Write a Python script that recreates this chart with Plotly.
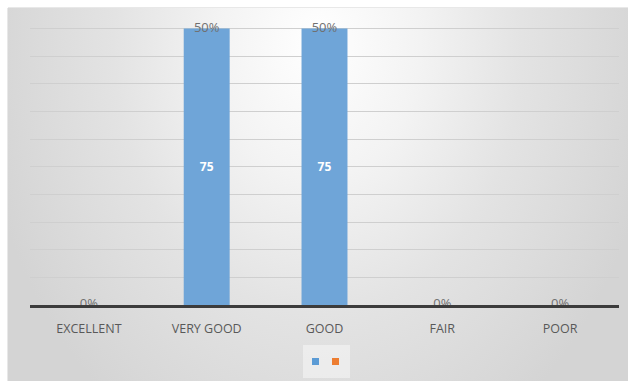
import plotly.graph_objects as go

categories = ["EXCELLENT", "VERY GOOD", "GOOD", "FAIR", "POOR"]
counts = [0, 75, 75, 0, 0]
percents = [0, 50, 50, 0, 0]
count_labels = ["", "75", "75", "", ""]
pct_labels = [f"{p}%" for p in percents]

W, H = 628, 381
fig = go.Figure()

# gradient chart-area background (on a full-page helper subplot)
fig.add_trace(go.Scatter(
    x=[-0.05, 1.05, 1.05, -0.05, -0.05], y=[-0.3, -0.3, 2.1, 2.1, -0.3],
    mode="lines", line=dict(width=0), fill="toself",
    fillgradient=dict(type="radial",
                      colorscale=[[0, "#ffffff"], [0.3, "#f3f3f3"], [0.6, "#e3e3e3"], [1, "#d4d4d4"]]),
    hoverinfo="skip", showlegend=False, xaxis="x", yaxis="y"))

# bars
fig.add_trace(go.Bar(
    x=categories, y=counts, marker=dict(color="#6fa5d8", line=dict(width=0)),
    text=count_labels, textposition="inside", insidetextanchor="middle",
    textfont=dict(color="white", size=12, family="Open Sans", weight="bold"),
    width=0.39, showlegend=False, xaxis="x2", yaxis="y2", hoverinfo="skip"))

# percentage labels at bar ends
fig.add_trace(go.Scatter(
    x=categories, y=counts, mode="text", text=pct_labels,
    textposition="middle center",
    textfont=dict(color="#707070", size=13, family="Open Sans"),
    cliponaxis=False, showlegend=False, xaxis="x2", yaxis="y2", hoverinfo="skip"))

# legend entries (no names, as in the reference)
fig.add_trace(go.Scatter(x=[None], y=[None], mode="markers", name="",
                         marker=dict(symbol="square", size=7, color="#5b9bd5"),
                         xaxis="x2", yaxis="y2", legend="legend"))
fig.add_trace(go.Scatter(x=[None], y=[None], mode="markers", name="",
                         marker=dict(symbol="square", size=7, color="#ed7d31"),
                         xaxis="x2", yaxis="y2", legend="legend2"))

leg_common = dict(orientation="h", bgcolor="rgba(0,0,0,0)", xanchor="left", yanchor="top",
                  font=dict(size=10), itemwidth=30)

px_per_unit = (305 - 28.5) / 75
top_px = 305 - 76 * px_per_unit

fig.update_layout(
    width=W, height=H,
    margin=dict(l=0, r=0, t=0, b=0),
    paper_bgcolor="white", plot_bgcolor="rgba(0,0,0,0)",
    xaxis=dict(domain=[8 / W, 1], range=[0, 1], visible=False, fixedrange=True),
    yaxis=dict(domain=[0, 1 - 8 / H], range=[0, 1], visible=False, fixedrange=True),
    xaxis2=dict(domain=[30 / W, 619 / W], anchor="y2",
                showgrid=False, showline=True, linecolor="#3c3c3c", linewidth=3,
                tickfont=dict(color="#595959", size=12.5, family="Open Sans"),
                ticks="", ticklabelstandoff=10),
    yaxis2=dict(domain=[76 / H, (H - top_px) / H], anchor="x2", range=[0, 76], dtick=7.5,
                showgrid=True, gridcolor="#cfcfcf", gridwidth=1,
                showticklabels=False, zeroline=False, ticks=""),
    showlegend=True,
    legend=dict(x=(315.5 - 20) / W, y=(381 - 347) / H, **leg_common),
    legend2=dict(x=(335.5 - 20) / W, y=(381 - 347) / H, **leg_common),
    shapes=[
        dict(type="rect", xref="paper", yref="paper", x0=8 / W, x1=1, y0=0, y1=1 - 8 / H,
             line=dict(color="#d0d0d0", width=1), fillcolor="rgba(0,0,0,0)", layer="below"),
        dict(type="rect", xref="paper", yref="paper", x0=303 / W, x1=350 / W,
             y0=(381 - 378) / H, y1=(381 - 345) / H,
             line=dict(width=0), fillcolor="rgba(245,245,245,0.6)", layer="above"),
    ],
)

fig.write_html("out.html")
